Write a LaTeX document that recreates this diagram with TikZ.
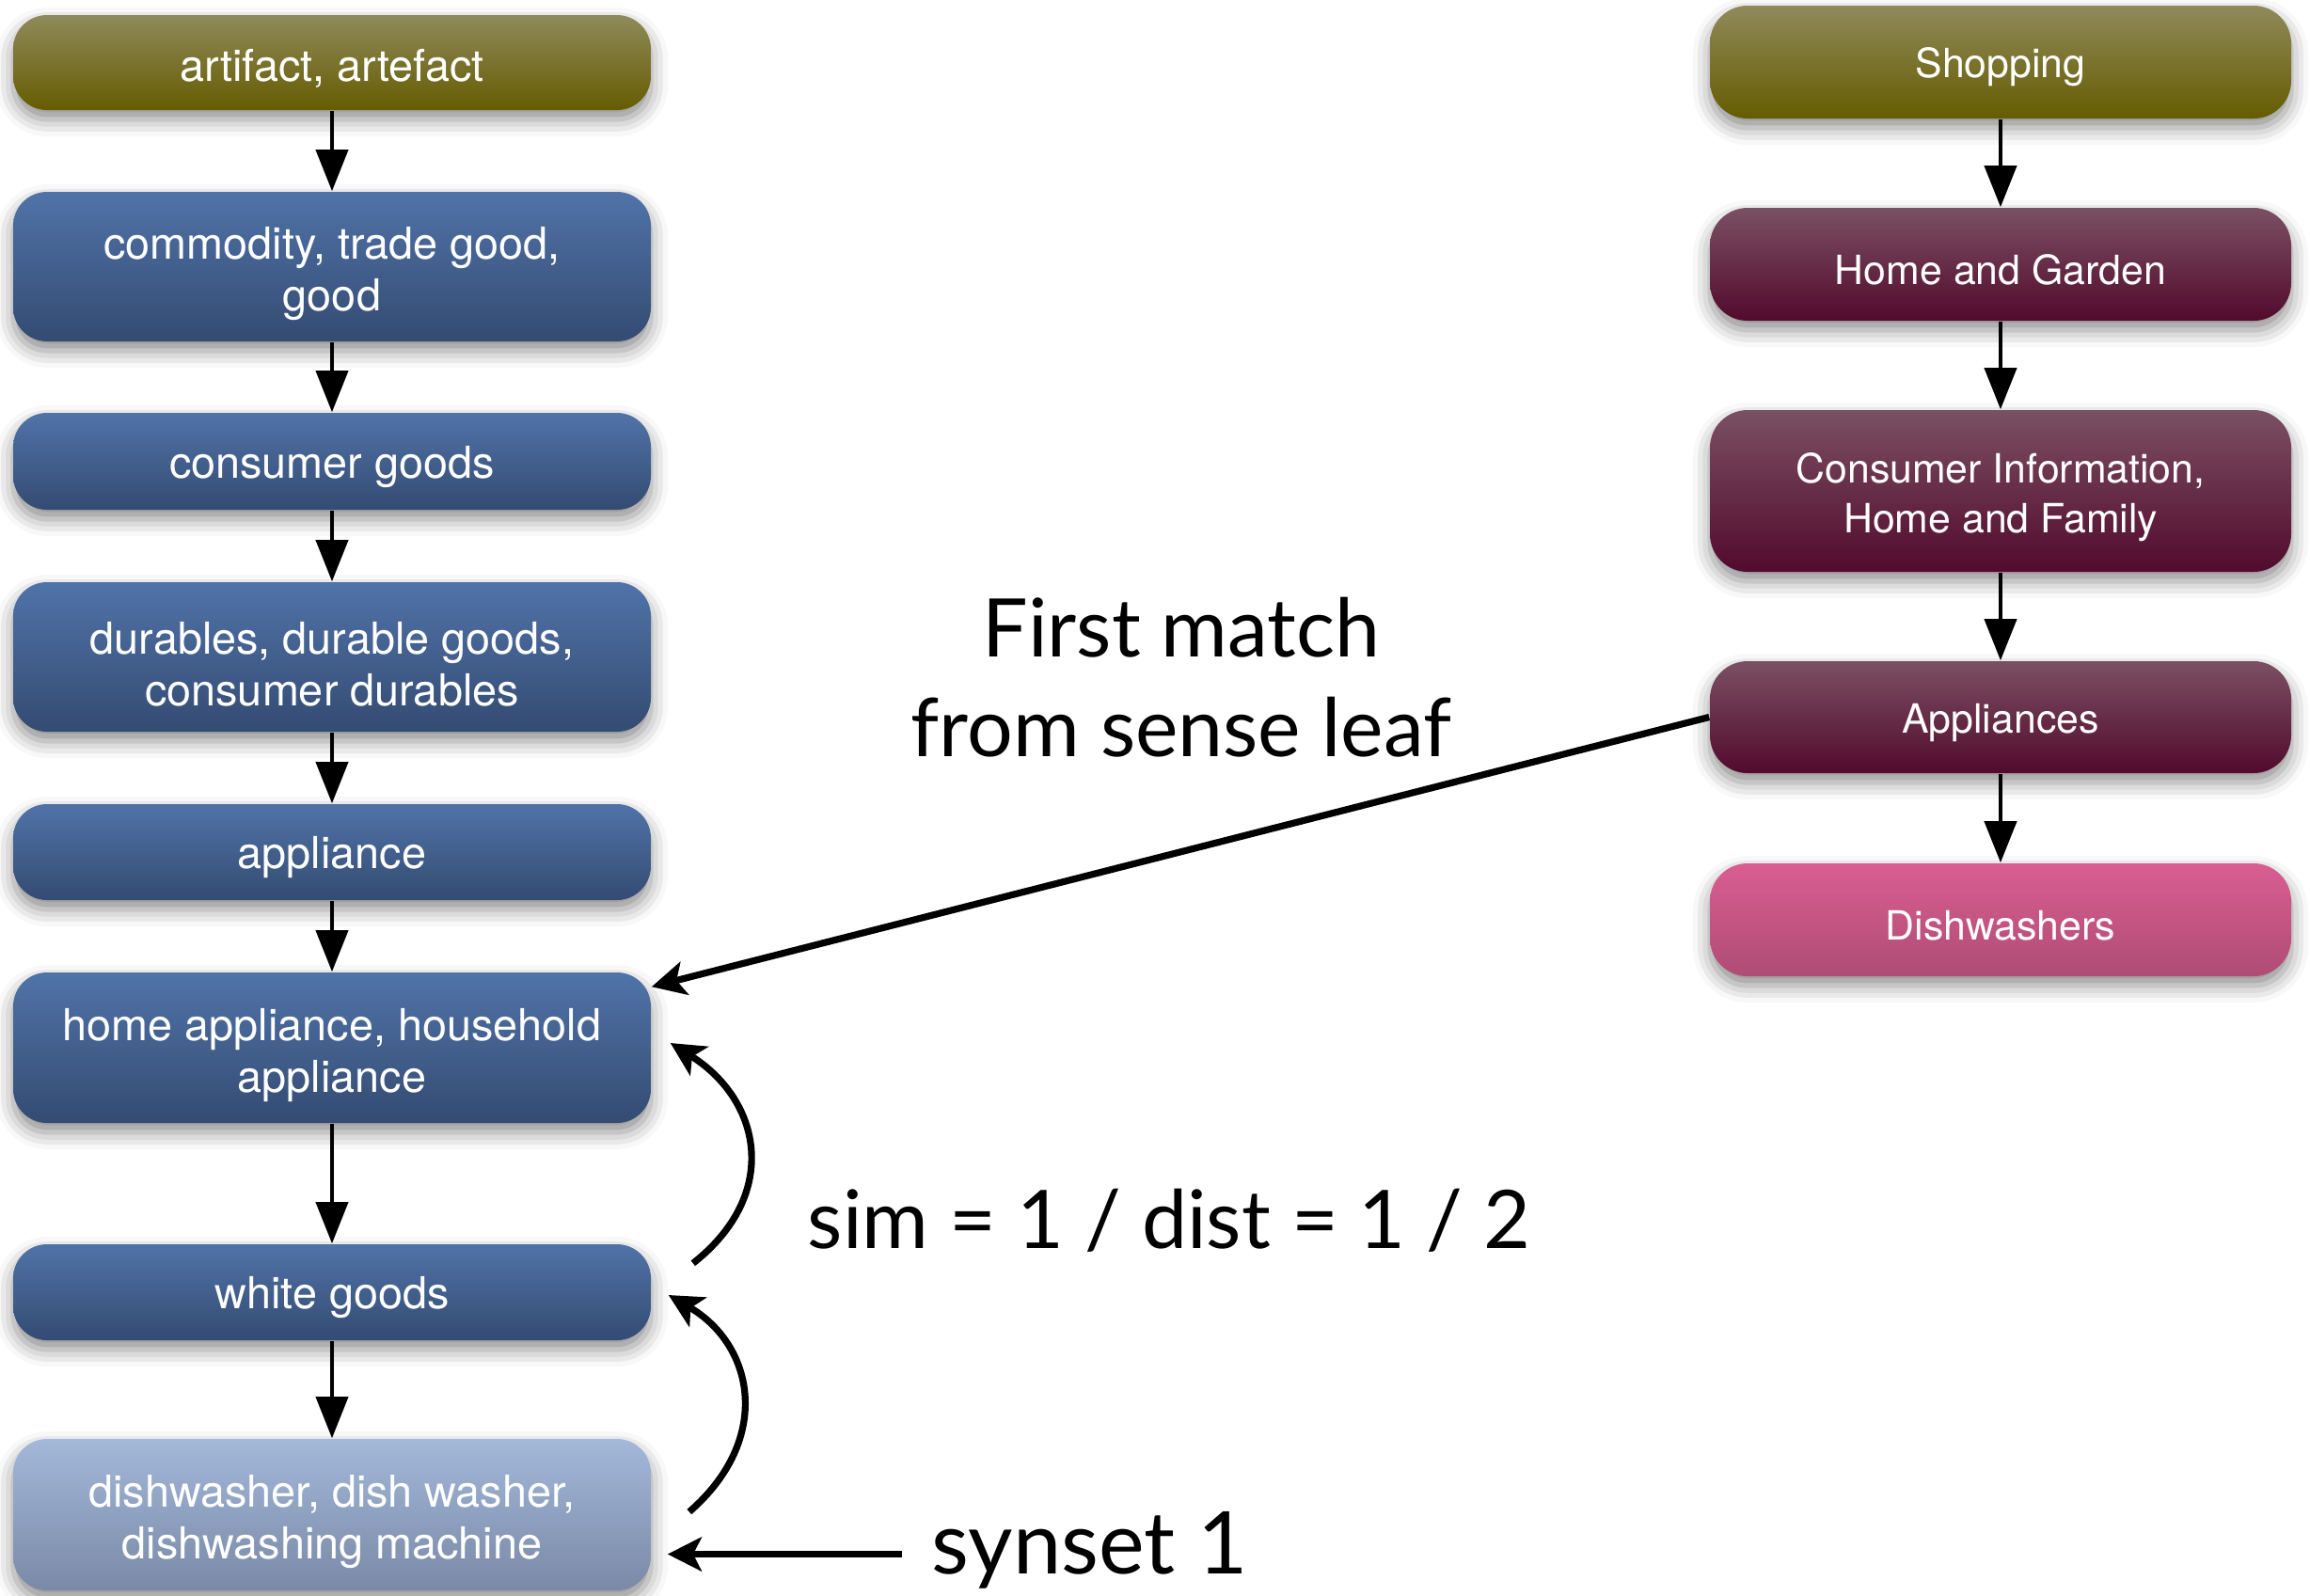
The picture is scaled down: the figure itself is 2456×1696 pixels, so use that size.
\documentclass[tikz,border=0pt]{standalone}
\usepackage{fontspec}
\setmainfont{TeX Gyre Heros}
\newfontfamily\gill{Lato}
\usetikzlibrary{arrows.meta,calc,shadows.blur}

\definecolor{oliveT}{HTML}{8F8A5B}
\definecolor{oliveB}{HTML}{655C00}
\definecolor{blueT}{HTML}{5073A8}
\definecolor{blueB}{HTML}{344B72}
\definecolor{lblueT}{HTML}{A3B8DA}
\definecolor{lblueB}{HTML}{7A89A6}
\definecolor{maroonT}{HTML}{7B5063}
\definecolor{maroonB}{HTML}{520A2D}
\definecolor{pinkT}{HTML}{D95E92}
\definecolor{pinkB}{HTML}{AF4C75}

\newcommand\lstrut{\rule{0pt}{12.5pt}}
\newcommand\rstrut{\rule{0pt}{11.3pt}}

\tikzset{
  box/.style={align=center, text=white, inner sep=0pt,
    blur shadow={shadow xshift=0pt, shadow yshift=-2.5pt, shadow blur radius=4.5pt, shadow opacity=45}},
  lbox/.style={box, rounded corners=9pt, minimum width=169.5pt, font=\fontsize{11.7}{13.75}\selectfont},
  rbox/.style={box, rounded corners=10pt, minimum width=154.5pt, font=\fontsize{10.7}{13.3}\selectfont},
  lone/.style={lbox, execute at begin node={\rule{0pt}{11.5pt}}},
  rone/.style={rbox, execute at begin node={\rule{0pt}{10.8pt}}},
  olivefill/.style={top color=oliveT, bottom color=oliveB},
  bluefill/.style={top color=blueT, bottom color=blueB},
  lbluefill/.style={top color=lblueT, bottom color=lblueB},
  maroonfill/.style={top color=maroonT, bottom color=maroonB},
  pinkfill/.style={top color=pinkT, bottom color=pinkB},
  tree/.style={-{Triangle[length=11pt,width=8.5pt]}, line width=1pt},
  bold/.style={-{Stealth[length=9pt,width=9pt,inset=2.2pt]}, line width=1.8pt},
  bigtext/.style={font=\gill\fontsize{21.5}{26.5}\selectfont, inner sep=0pt},
}

\begin{document}
\begin{tikzpicture}[x=0.25pt,y=-0.25pt]
\useasboundingbox (0,0) rectangle (2456,1696);

% left column
\node[lone, olivefill, minimum height=25.25pt] (a1) at (353,66.5) {artifact, artefact};
\node[lbox, bluefill, minimum height=39.75pt] (a2) at (353,283.5) {\lstrut commodity, trade good,\\good};
\node[lone, bluefill, minimum height=25.75pt] (a3) at (353,490.5) {consumer goods};
\node[lbox, bluefill, minimum height=39.75pt] (a4) at (353,698.5) {\lstrut durables, durable goods,\\consumer durables};
\node[lone, bluefill, minimum height=25.5pt] (a5) at (353,906) {appliance};
\node[lbox, bluefill, minimum height=40pt] (a6) at (353,1114) {\lstrut home appliance, household\\appliance};
\node[lone, bluefill, minimum height=25.5pt] (a7) at (353,1374) {white goods};
\node[lbox, lbluefill, minimum height=40.25pt] (a8) at (353,1610.5) {\lstrut dishwasher, dish washer,\\dishwashing machine};

% right column
\node[rone, olivefill, minimum height=30pt] (b1) at (2127,66) {Shopping};
\node[rone, maroonfill, minimum height=30pt] (b2) at (2127,281) {Home and Garden};
\node[rbox, maroonfill, minimum height=43pt] (b3) at (2127,522) {\rstrut Consumer Information,\\Home and Family};
\node[rone, maroonfill, minimum height=29.75pt] (b4) at (2127,762.5) {Appliances};
\node[rone, pinkfill, minimum height=30pt] (b5) at (2127,978) {Dishwashers};

% tree arrows
\draw[tree] (a1) -- (a2);
\draw[tree] (a2) -- (a3);
\draw[tree] (a3) -- (a4);
\draw[tree] (a4) -- (a5);
\draw[tree] (a5) -- (a6);
\draw[tree] (a6) -- (a7);
\draw[tree] (a7) -- (a8);
\draw[tree] (b1) -- (b2);
\draw[tree] (b2) -- (b3);
\draw[tree] (b3) -- (b4);
\draw[tree] (b4) -- (b5);

% labels
\node[bigtext, align=center] (fm) at (1256,720) {First match\\from sense leaf};
\node[bigtext, anchor=base west] (sim) at (858,1327) {sim = 1 / dist = 1 / 2};
\node[bigtext, font=\gill\fontsize{23}{28}\selectfont, anchor=base west] (syn) at (990,1673) {synset 1};

% match arrow
\coordinate (mtip) at ($(a6.north east)+(0,16)$);
\draw[bold] (b4.west) -- (mtip);

% curved arrows
\coordinate (c1s) at ($(a7.north east)+(44,21)$);
\coordinate (c1e) at ($(a6.east)+(20,-5)$);
\draw[bold] (c1s) .. controls (830,1270) and (810,1170) .. (c1e);
\coordinate (c2s) at ($(a8.east)+(40,-3)$);
\coordinate (c2e) at ($(a7.east)+(18,3)$);
\draw[bold] (c2s) .. controls (822,1530) and (802,1430) .. (c2e);

% synset arrow
\coordinate (stip) at ($(a8.east)+(17,42)$);
\draw[bold] (syn.west |- stip) ++(-31,0) -- (stip);
\end{tikzpicture}
\end{document}
